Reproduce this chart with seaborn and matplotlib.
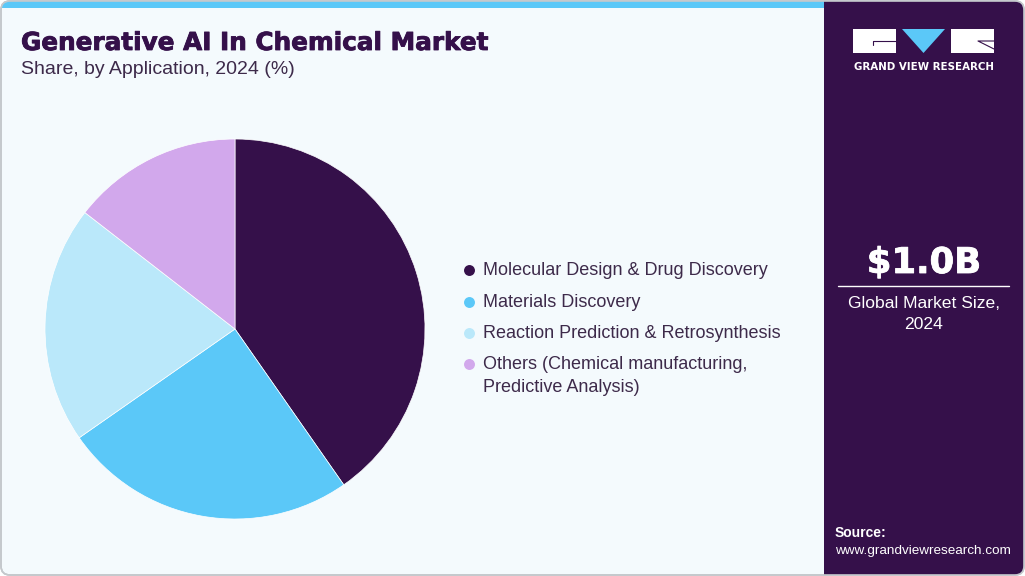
import matplotlib
matplotlib.use("Agg")
import matplotlib.pyplot as plt
import matplotlib.patheffects as pe
from matplotlib.patches import FancyBboxPatch, Rectangle, Polygon
import seaborn as sns

categories = ["Molecular Design & Drug Discovery", "Materials Discovery",
              "Reaction Prediction & Retrosynthesis",
              "Others (Chemical manufacturing,\nPredictive Analysis)"]
shares = [40.3, 25.0, 20.2, 14.5]
colors = ["#35104A", "#5BC8F8", "#BAE8FA", "#D2A8EC"]
title = "Generative AI In Chemical Market"
subtitle = "Share, by Application, 2024 (%)"
market_value = "$1.0B"
market_label = "Global Market Size,\n2024"
source_head = "Source:"
source_url = "www.grandviewresearch.com"
brand = "GRAND VIEW RESEARCH"

sns.set_theme(style="white")
BODY = ["Liberation Sans", "DejaVu Sans"]
HEAVY = ["DejaVu Sans"]
DARK = "#35104A"
W, H = 1025, 576
fig = plt.figure(figsize=(W / 100, H / 100), dpi=100, facecolor="white")

bg = fig.add_axes([0, 0, 1, 1])
bg.set_xlim(0, W); bg.set_ylim(H, 0); bg.axis("off")

frame = FancyBboxPatch((1, 1), W - 2, H - 2, boxstyle="round,pad=0,rounding_size=9",
                       fc="#F4FAFD", ec="#C4C8CC", lw=1.2, zorder=0)
bg.add_patch(frame)
top = Rectangle((0, 0), W, 8, fc="#5BC8F8", ec="none", zorder=1)
top.set_clip_path(frame)
bg.add_patch(top)
panel = Rectangle((824, 0), W - 824, H, fc=DARK, ec="none", zorder=2)
panel.set_clip_path(frame)
bg.add_patch(panel)
bg.add_patch(FancyBboxPatch((1, 1), W - 2, H - 2, boxstyle="round,pad=0,rounding_size=9",
                            fc="none", ec="#C4C8CC", lw=1.2, zorder=3))

bg.text(21, 43, title, family=HEAVY, weight="bold", fontsize=17.8, color=DARK, va="center", zorder=5,
        path_effects=[pe.withStroke(linewidth=0.6, foreground=DARK)])
bg.text(21, 70, subtitle, family=BODY, fontsize=14, color="#3D2A4A", va="center", zorder=5)

# legend
ys = [271, 303, 334, 365]
for cat, col, y in zip(categories, colors, ys):
    bg.scatter([469], [y - 1], s=62, color=col, linewidths=0, zorder=5)
    bg.text(483, y - 9, cat, family=BODY, fontsize=12.95, color="#3D2A4A", va="top",
            linespacing=1.5, zorder=5)

# logo
bg.add_patch(Polygon([(853, 29), (896, 29), (896, 53), (853, 53)], fc="white", ec="none", zorder=5))
bg.plot([896, 873, 873], [41, 41, 45], color=DARK, lw=0.8, zorder=6)
bg.add_patch(Polygon([(902, 29), (945, 29), (923.5, 53)], fc="#5BC8F8", ec="none", zorder=5))
bg.add_patch(Polygon([(951, 29), (994, 29), (994, 53), (951, 53)], fc="white", ec="none", zorder=5))
bg.plot([994, 978, 994], [49, 41, 41], color=DARK, lw=0.8, zorder=6)
bg.text(923.5, 67, brand, family=["DejaVu Sans"], weight="bold", fontsize=7.4,
        color="white", ha="center", va="center", zorder=5)

# side panel text
bg.text(924, 263, market_value, family=HEAVY, weight="bold", fontsize=25.5, color="white",
        ha="center", va="center", zorder=5,
        path_effects=[pe.withStroke(linewidth=0.6, foreground="white")])
bg.plot([838, 1009], [286, 286], color="white", lw=1, zorder=5)
bg.text(924, 314, market_label, family=BODY, fontsize=12.6, color="white", ha="center",
        va="center", linespacing=1.5, zorder=5)
bg.text(835, 533, source_head, family=BODY, weight="bold", fontsize=10, color="white",
        va="center", zorder=5)
bg.text(835, 551, source_url, family=BODY, fontsize=9.7, color="white", va="center", zorder=5)

# pie
cx, cy, r = 235, 329, 190
ax = fig.add_axes([(cx - r) / W, 1 - (cy + r) / H, 2 * r / W, 2 * r / H])
ax.pie(shares, colors=colors, startangle=90, counterclock=False, radius=1.0,
       wedgeprops={"edgecolor": "white", "linewidth": 0.5})
ax.set_xlim(-1, 1); ax.set_ylim(-1, 1)
ax.patch.set_alpha(0)

fig.savefig("out.png", dpi=100, facecolor="white")
